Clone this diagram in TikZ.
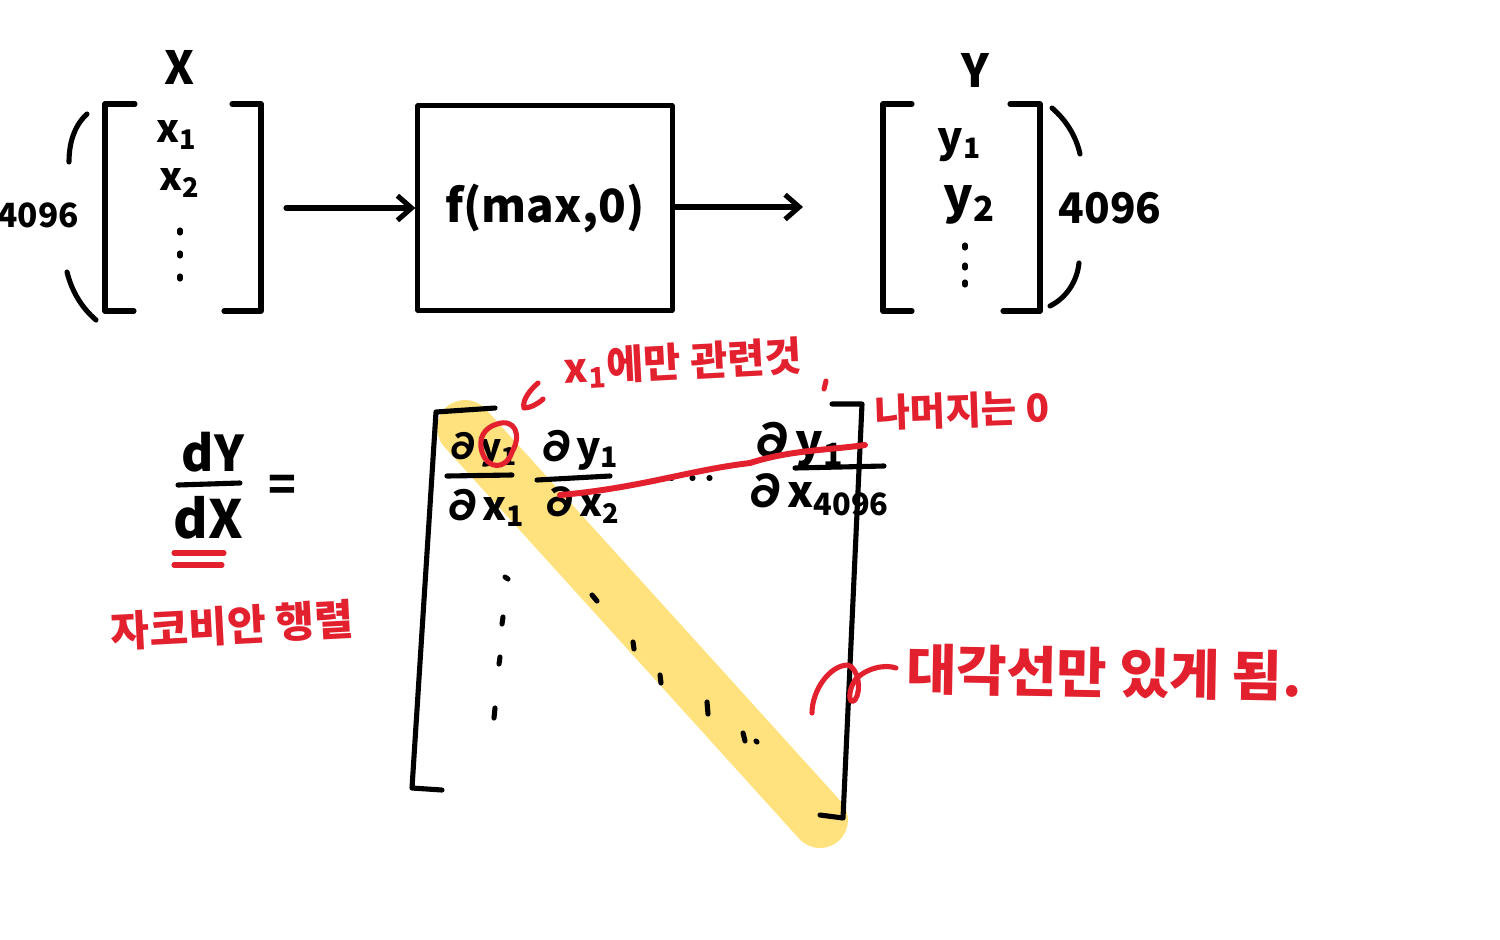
\documentclass[tikz,border=0pt]{standalone}
\usepackage{fontspec}
\setmainfont{Noto Sans CJK KR}
\usetikzlibrary{arrows.meta}
\definecolor{penred}{HTML}{E3202E}
\definecolor{markeryellow}{HTML}{FFE27E}
\tikzset{
  pen/.style={line width=1.45pt,line cap=round,line join=round},
  redpen/.style={pen,penred},
  hand/.style={inner sep=0pt,font=\fontsize{#1}{#1}\selectfont\bfseries},
  redhand/.style={hand=#1,text=penred},
  arrow/.style={pen,-{Straight Barb[length=4pt,width=7pt]}}
}
\begin{document}
\begin{tikzpicture}[x=0.01cm,y=-0.01cm]
  \useasboundingbox (0,0) rectangle (1500,939);

  % highlight first
  \draw[markeryellow,line width=56*0.01cm,line cap=round] (465,428) -- (820,820);

  % input vector
  \node[hand=13] (xname) at (180,67) {X};
  \draw[pen] (135,104) -- (105,104) -- (105,311) -- (134,311);
  \draw[pen] (232,104) -- (261,104) -- (261,311) -- (224,311);
  \node[hand=11] (xone) at (177,135) {x\textsubscript{1}};
  \node[hand=11] (xtwo) at (180,183) {x\textsubscript{2}};
  \draw[pen] (180,230) -- (180,233) (180,253) -- (180,256) (180,276) -- (180,279);
  \draw[pen] (69,162) .. controls (69,140) and (76,124) .. (87,114);
  \draw[pen] (67,272) .. controls (72,292) and (82,308) .. (96,320);
  \node[hand=9.5] (xsize) at (38,215) {4096};

  % function box
  \node[draw,pen,minimum width=2.54cm,minimum height=2.04cm,inner sep=0pt,font=\fontsize{13}{13}\selectfont\bfseries] (fbox) at (545,208) {f(max,0)};
  \coordinate (xout) at (286,208);
  \coordinate (yin) at (803,207);
  \draw[arrow] (xout) -- (fbox.west);
  \draw[arrow] (fbox.east |- yin) -- (yin);

  % output vector
  \node[hand=13] (yname) at (975,70) {Y};
  \draw[pen] (912,104) -- (883,104) -- (883,311) -- (912,311);
  \draw[pen] (1010,104) -- (1040,104) -- (1040,311) -- (1003,311);
  \node[hand=12] (yone) at (960,145) {y\textsubscript{1}};
  \node[hand=14] (ytwo) at (970,205) {y\textsubscript{2}};
  \draw[pen] (965,245) -- (965,248) (965,265) -- (965,268) (965,282) -- (965,285);
  \draw[pen] (1052,108) .. controls (1066,120) and (1076,136) .. (1080,154);
  \draw[pen] (1079,263) .. controls (1077,282) and (1066,298) .. (1050,306);
  \node[hand=12] (ysize) at (1110,208) {4096};

  % dY/dX
  \node[hand=14] (dy) at (213,452) {dY};
  \draw[pen] (178,485) -- (240,483);
  \node[hand=15] (dx) at (208,518) {dX};
  \node[hand=13] (equal) at (282,488) {=};
  \draw[redpen] (174,553) -- (224,553);
  \draw[redpen] (174,565) -- (222,565);
  \node[redhand=12,rotate=3] (jacobian) at (232,625) {자코비안 행렬};

  % matrix
  \draw[pen] (495,408) -- (436,412) -- (412,788) -- (442,790);
  \draw[pen] (832,404) -- (862,404) -- (843,818) -- (820,815);
  \node[hand=10] (dyone) at (482,450) {∂y\textsubscript{1}};
  \draw[pen] (447,476) -- (512,475);
  \node[hand=11.5] (dxone) at (484,508) {∂x\textsubscript{1}};
  \node[hand=11.5] (dytwo) at (578,450) {∂y\textsubscript{1}};
  \draw[pen] (537,480) -- (610,476);
  \node[hand=11] (dxtwo) at (581,505) {∂x\textsubscript{2}};
  \node[hand=13] (dylast) at (797,445) {∂y\textsubscript{1}};
  \draw[pen] (795,468) -- (884,466);
  \node[hand=12.5] (dxlast) at (817,495) {∂x\textsubscript{4096}};
  \draw[pen] (671,478) -- (672,478) (692,478) -- (693,478) (709,478) -- (710,478);
  \draw[pen] (505,577) -- (508,579) (503,617) -- (502,624) (500,657) -- (499,664) (495,708) -- (494,718);
  \draw[pen] (592,595) -- (597,601) (633,642) -- (634,649) (660,675) -- (661,683) (707,702) -- (708,714);
  \draw[pen] (743,733) -- (745,741) (756,741) -- (757,742);

  % red notes
  \draw[redpen] (497,424) .. controls (515,418) and (522,435) .. (512,452) .. controls (506,470) and (488,470) .. (482,452) .. controls (478,438) and (484,428) .. (497,424);
  \draw[redpen,line width=1.7pt] (560,495) .. controls (640,488) and (690,470) .. (750,463) .. controls (790,450) and (830,450) .. (865,445);
  \draw[redpen] (538,383) .. controls (530,390) and (522,400) .. (524,408) .. controls (530,408) and (538,404) .. (543,399);
  \draw[redpen] (826,381) -- (824,389);
  \node[redhand=11.5,rotate=3] (onlyxone) at (683,363) {x\textsubscript{1}에만 관련것};
  \node[redhand=11,rotate=2] (restzero) at (962,410) {나머지는 0};
  \draw[redpen] (812,713) .. controls (812,690) and (830,665) .. (848,665) .. controls (858,668) and (862,690) .. (855,700) .. controls (848,706) and (848,690) .. (855,680) .. controls (866,668) and (885,664) .. (896,668);
  \node[redhand=15.5,rotate=-1] (diagonal) at (1104,673) {대각선만 있게 됨.};
\end{tikzpicture}
\end{document}
